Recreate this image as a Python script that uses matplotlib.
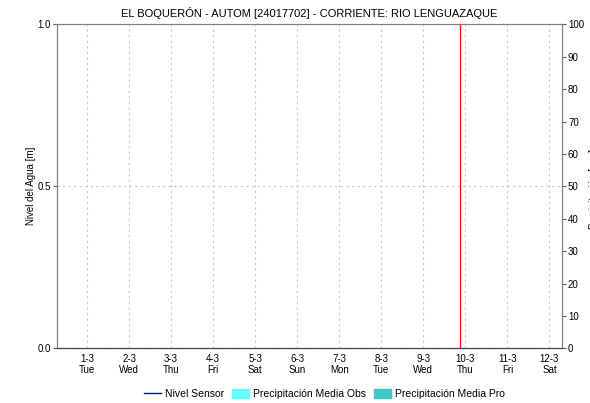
import pandas as pd
import matplotlib
matplotlib.use('Agg')
from matplotlib import pyplot as plt
from matplotlib.lines import Line2D
from matplotlib.patches import Patch

plt.rcParams['font.family'] = ['Liberation Sans', 'DejaVu Sans']

"""Data
"""
title = 'EL BOQUERÓN - AUTOM [24017702] - CORRIENTE: RIO LENGUAZAQUE'
start = pd.Timestamp('2022-02-28 07:00')
end = pd.Timestamp('2022-03-12 07:00')
now = pd.Timestamp('2022-03-09 21:00')
tick_dates = pd.date_range('2022-03-01', '2022-03-12', freq='D')
tick_labels = ['%d-%d\n%s' % (d.day, d.month, d.strftime('%a')) for d in tick_dates]

# no data in the window
nivel_t = []
nivel_v = []
obs_t = []
obs_v = []
pro_t = []
pro_v = []

"""Plot
"""
f = plt.figure(figsize=(5.9, 4.03), dpi=100)
ax = f.add_axes([0.0971, 0.1357, 0.855, 0.804])
ax2 = ax.twinx()

ax2.bar(obs_t, obs_v, color='#66ffff', width=0.04)
ax2.bar(pro_t, pro_v, color='#40c8c8', width=0.04)
ax.plot(nivel_t, nivel_v, color='#0000ff', lw=1)
ax.axvline(now, color='#ff0000', lw=0.9)

ax.set_xlim(start, end)
ax.set_ylim(0, 1)
ax2.set_ylim(0, 100)
ax.set_yticks([0, 0.5, 1.0])
ax.set_yticklabels(['0.0', '0.5', '1.0'])
ax2.set_yticks(range(0, 101, 10))
ax.set_xticks(tick_dates)
ax.set_xticklabels(tick_labels)

ax.grid(True, color='#c8c8c8', linestyle=(0, (2, 3)), lw=0.8)
ax.tick_params(axis='x', length=0, labelsize=7, pad=4)
ax.tick_params(axis='y', length=3, labelsize=7, color='#606060', pad=1.5)
ax2.tick_params(axis='y', length=3, labelsize=7, color='#606060', pad=1.5)
for a in (ax, ax2):
    for s in ('top', 'left', 'right'):
        a.spines[s].set_color('#808080')
    a.spines['bottom'].set_color('#404040')
    a.spines['bottom'].set_linestyle((0, (1, 1)))
ax.set_ylabel('Nivel del Agua [m]', fontsize=7, labelpad=1)
f.text(1.006, 0.53, 'Precipitación [mm]', rotation=90, fontsize=7, ha='center', va='center')
ax.set_title(title, fontsize=8, pad=5)

handles = [Line2D([], [], color='#0000ff', lw=1),
           Patch(color='#66ffff'),
           Patch(color='#40c8c8')]
labels = ['Nivel Sensor', 'Precipitación Media Obs', 'Precipitación Media Pro']
f.legend(handles, labels, loc='center', bbox_to_anchor=(0.55, 0.022), ncol=3,
         frameon=False, fontsize=7.5, handlelength=1.6, handleheight=0.9,
         handletextpad=0.4, columnspacing=0.8)

f.savefig('out.png', dpi=100)
